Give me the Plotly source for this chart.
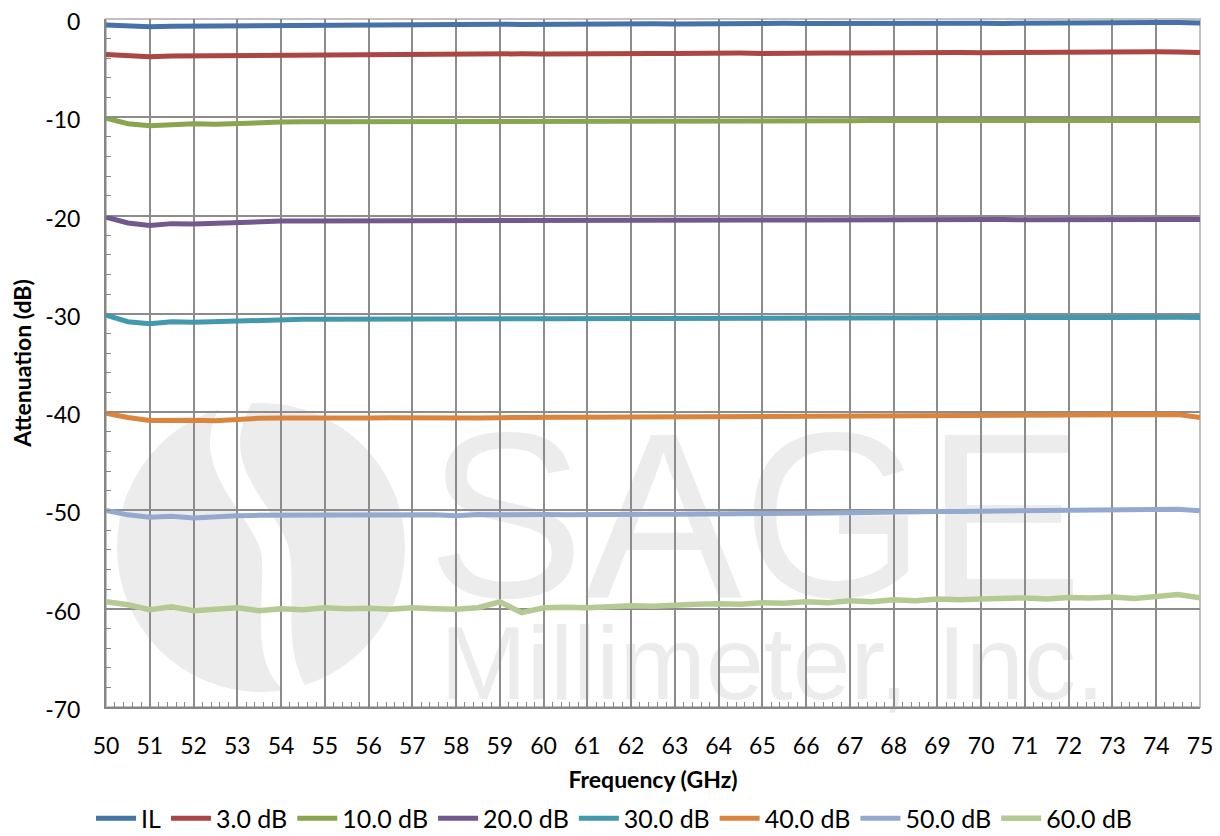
import plotly.graph_objects as go

# frequency points (GHz), values every 0.5 GHz
freq = [50.0, 50.5, 51.0, 51.5, 52.0, 52.5, 53.0, 53.5, 54.0, 54.5,
        55.0, 55.5, 56.0, 56.5, 57.0, 57.5, 58.0, 58.5, 59.0, 59.5,
        60.0, 60.5, 61.0, 61.5, 62.0, 62.5, 63.0, 63.5, 64.0, 64.5,
        65.0, 65.5, 66.0, 66.5, 67.0, 67.5, 68.0, 68.5, 69.0, 69.5,
        70.0, 70.5, 71.0, 71.5, 72.0, 72.5, 73.0, 73.5, 74.0, 74.5, 75.0]

il = [-0.62, -0.72, -0.78, -0.74, -0.72, -0.70, -0.66, -0.62, -0.60, -0.58,
      -0.57, -0.56, -0.56, -0.55, -0.57, -0.55, -0.56, -0.54, -0.53, -0.55,
      -0.52, -0.50, -0.52, -0.47, -0.50, -0.48, -0.50, -0.47, -0.50, -0.46,
      -0.47, -0.44, -0.47, -0.45, -0.46, -0.44, -0.45, -0.42, -0.45, -0.43,
      -0.42, -0.45, -0.42, -0.40, -0.41, -0.38, -0.38, -0.30, -0.35, -0.36, -0.40]

att_3 = [-3.62, -3.76, -3.84, -3.76, -3.74, -3.72, -3.70, -3.68, -3.66, -3.64,
         -3.62, -3.60, -3.60, -3.58, -3.60, -3.56, -3.58, -3.55, -3.56, -3.54,
         -3.55, -3.52, -3.54, -3.50, -3.52, -3.50, -3.52, -3.48, -3.50, -3.47,
         -3.50, -3.46, -3.48, -3.45, -3.47, -3.44, -3.46, -3.42, -3.44, -3.41,
         -3.44, -3.42, -3.40, -3.38, -3.40, -3.37, -3.36, -3.26, -3.34, -3.36, -3.40]

att_10 = [-10.10, -10.65, -10.85, -10.70, -10.65, -10.72, -10.60, -10.50, -10.48, -10.46,
          -10.46, -10.44, -10.45, -10.43, -10.44, -10.42, -10.43, -10.42, -10.42, -10.40,
          -10.42, -10.40, -10.41, -10.38, -10.40, -10.38, -10.39, -10.37, -10.38, -10.36,
          -10.37, -10.35, -10.36, -10.35, -10.35, -10.33, -10.35, -10.33, -10.34, -10.32,
          -10.33, -10.32, -10.32, -10.30, -10.31, -10.30, -10.30, -10.28, -10.30, -10.30, -10.32]

att_20 = [-20.15, -20.75, -21.00, -20.82, -20.86, -20.78, -20.66, -20.60, -20.56, -20.55,
          -20.54, -20.53, -20.53, -20.52, -20.53, -20.51, -20.52, -20.51, -20.52, -20.50,
          -20.50, -20.49, -20.50, -20.48, -20.49, -20.47, -20.48, -20.47, -20.47, -20.46,
          -20.46, -20.45, -20.46, -20.44, -20.45, -20.43, -20.44, -20.42, -20.43, -20.42,
          -20.42, -20.41, -20.42, -20.40, -20.41, -20.38, -20.40, -20.35, -20.38, -20.39, -20.40]

att_30 = [-30.12, -30.80, -31.00, -30.80, -30.85, -30.78, -30.68, -30.62, -30.58, -30.56,
          -30.56, -30.54, -30.55, -30.53, -30.54, -30.52, -30.53, -30.51, -30.52, -30.50,
          -30.50, -30.49, -30.49, -30.47, -30.48, -30.46, -30.47, -30.45, -30.46, -30.44,
          -30.45, -30.43, -30.44, -30.42, -30.43, -30.41, -30.42, -30.40, -30.41, -30.39,
          -30.40, -30.38, -30.39, -30.37, -30.38, -30.36, -30.37, -30.34, -30.35, -30.35, -30.38]

att_40 = [-40.10, -40.55, -40.85, -40.78, -40.82, -40.88, -40.70, -40.62, -40.60, -40.62,
          -40.60, -40.58, -40.60, -40.57, -40.60, -40.62, -40.68, -40.60, -40.56, -40.55,
          -40.58, -40.56, -40.55, -40.52, -40.55, -40.52, -40.52, -40.50, -40.50, -40.48,
          -40.48, -40.46, -40.47, -40.45, -40.46, -40.44, -40.44, -40.42, -40.42, -40.40,
          -40.41, -40.38, -40.38, -40.35, -40.36, -40.34, -40.34, -40.32, -40.30, -40.25, -40.55]

att_50 = [-50.00, -50.45, -50.70, -50.60, -50.78, -50.62, -50.55, -50.50, -50.48, -50.47,
          -50.45, -50.46, -50.44, -50.42, -50.42, -50.45, -50.55, -50.42, -50.45, -50.40,
          -50.42, -50.43, -50.45, -50.42, -50.44, -50.40, -50.38, -50.38, -50.35, -50.33,
          -50.30, -50.30, -50.28, -50.25, -50.20, -50.18, -50.15, -50.14, -50.12, -50.10,
          -50.08, -50.05, -50.00, -49.98, -49.98, -49.95, -49.95, -49.92, -49.90, -49.88, -50.02]

att_60 = [-59.30, -59.60, -60.10, -59.80, -60.20, -60.10, -59.90, -60.20, -60.00, -60.10,
          -59.90, -60.00, -59.95, -60.05, -59.90, -60.00, -60.05, -59.90, -59.30, -60.40,
          -59.90, -59.85, -59.90, -59.80, -59.70, -59.75, -59.60, -59.55, -59.50, -59.55,
          -59.40, -59.45, -59.30, -59.40, -59.20, -59.30, -59.10, -59.20, -59.00, -59.10,
          -59.00, -58.95, -58.90, -59.00, -58.85, -58.90, -58.80, -58.95, -58.70, -58.55, -58.90]

series_names = ["IL", "3.0 dB", "10.0 dB", "20.0 dB", "30.0 dB", "40.0 dB", "50.0 dB", "60.0 dB"]
series_values = [il, att_3, att_10, att_20, att_30, att_40, att_50, att_60]
colors = ["#4572A7", "#AA4643", "#89A54E", "#71588F", "#4198AF", "#DB843D", "#93A9CF", "#B3CB92"]

y_ticks = [0, -10, -20, -30, -40, -50, -60, -70]
y_labels = ["0", "-10", "-20", "-30", "-40", "-50", "-60", "-70"]

FONT = "Lato, 'Open Sans', sans-serif"

# page has an 8px body margin, so the figure is 1212x828 and sits at (8, 8)
# plot area in screen pixels: x 106..1200, y 19..707
def px(x):
    return (x - 106) / 1094

def py(y):
    return (707 - y) / 688

fig = go.Figure()
for name, vals, col in zip(series_names, series_values, colors):
    fig.add_trace(go.Scatter(x=freq, y=vals, name=name, mode="lines",
                             line=dict(color=col, width=5.5 if name == "60.0 dB" else 5)))

wm = "#ECECEC"
shapes = [
    # logo watermark
    dict(type="circle", xref="paper", yref="paper", layer="below",
         x0=px(117), x1=px(405), y0=py(692), y1=py(403),
         fillcolor=wm, line=dict(width=0)),
    dict(type="path", xref="paper", yref="paper", layer="below",
         path=("M {} {} C {} {}, {} {}, {} {} C {} {}, {} {}, {} {} L {} {} "
               "C {} {}, {} {}, {} {} C {} {}, {} {}, {} {} Z").format(
             px(222), py(404), px(180), py(470), px(262), py(520), px(262), py(560),
             px(264), py(610), px(250), py(660), px(285), py(692),
             px(308), py(690), px(282), py(650), px(296), py(600), px(290), py(555),
             px(285), py(510), px(212), py(470), px(252), py(403)),
         fillcolor="white", line=dict(width=0)),
    dict(type="rect", xref="paper", yref="paper", layer="below",
         x0=px(430), x1=px(1080), y0=py(595), y1=py(390),
         line=dict(width=0), fillcolor="rgba(0,0,0,0)",
         label=dict(text="SAGE", font=dict(family="Liberation Sans", size=236, color=wm),
                    textposition="middle center")),
    dict(type="rect", xref="paper", yref="paper", layer="below",
         x0=px(430), x1=px(1115), y0=py(705), y1=py(600),
         line=dict(width=0), fillcolor="rgba(0,0,0,0)",
         label=dict(text="Millimeter, Inc.", font=dict(family="Liberation Sans", size=104, color=wm),
                    textposition="middle center")),
    # light plot border
    dict(type="rect", xref="paper", yref="paper", layer="between",
         x0=0, x1=1, y0=0, y1=1, line=dict(color="#C0C0C0", width=2)),
]

fig.update_layout(
    width=1212, height=828,
    margin=dict(l=98, r=20, t=11, b=129, autoexpand=False),
    paper_bgcolor="white", plot_bgcolor="white",
    font=dict(family=FONT, size=23, color="black"),
    shapes=shapes,
    legend=dict(orientation="h", x=0.5, xanchor="center", xref="container",
                y=0.021, yanchor="middle", yref="container",
                font=dict(size=25), itemwidth=40, tracegroupgap=0),
)
fig.update_xaxes(
    range=[50, 75], dtick=1, tick0=50, automargin=False, ticklabeloverflow="allow",
    showgrid=True, gridcolor="#8C8C8C", gridwidth=2,
    showline=True, linecolor="#868686", linewidth=2,
    ticks="inside", ticklen=5, tickcolor="#868686", ticklabelstandoff=17,
    minor=dict(dtick=0.2, ticks="inside", ticklen=5, tickcolor="#868686", showgrid=False),
    zeroline=False,
    title=dict(text="<b>Frequency (GHz)</b>", standoff=14, font=dict(size=23)),
)
fig.update_yaxes(
    range=[-70, 0], tickmode="array", tickvals=y_ticks, ticktext=y_labels,
    automargin=False, ticklabeloverflow="allow", ticklabelshift=3,
    showgrid=True, gridcolor="#8C8C8C", gridwidth=2,
    showline=True, linecolor="#868686", linewidth=2,
    ticks="inside", ticklen=5, tickcolor="#868686", ticklabelstandoff=19,
    minor=dict(dtick=2, tick0=0, ticks="inside", ticklen=5, tickcolor="#868686", showgrid=False),
    zeroline=False,
    title=dict(text="<b>Attenuation (dB)</b>", standoff=13, font=dict(size=23)),
)

fig.write_html("out.html")
